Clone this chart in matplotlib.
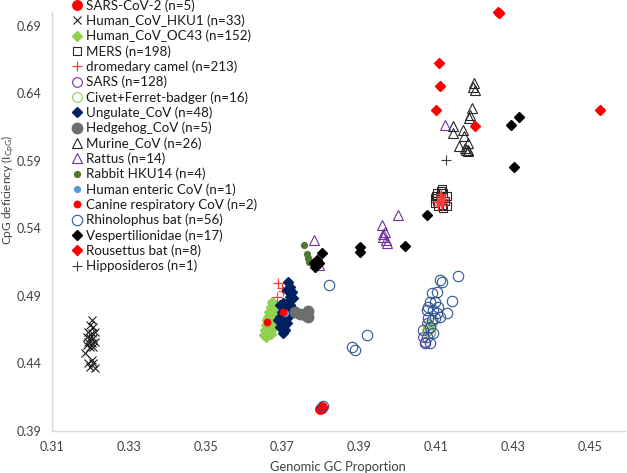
import matplotlib
matplotlib.use("Agg")
import matplotlib.pyplot as plt

plt.rcParams['font.family'] = ['Lato', 'DejaVu Sans']
plt.rcParams['mathtext.fontset'] = 'custom'
plt.rcParams['mathtext.rm'] = 'Lato'
plt.rcParams['mathtext.it'] = 'Lato'

# values (GC proportion, CpG deficiency)
sars_cov2_x = [0.3800, 0.3803, 0.3799, 0.3801, 0.3802]
sars_cov2_y = [0.4070, 0.4075, 0.4065, 0.4072, 0.4068]

hku1_x = [0.3203, 0.3199, 0.3208, 0.3195, 0.3203, 0.3212, 0.3190, 0.3199, 0.3208, 0.3195, 0.3203,
          0.3212, 0.3199, 0.3190, 0.3208, 0.3186, 0.3203, 0.3208, 0.3199, 0.3212, 0.3195]
hku1_y = [0.4722, 0.4685, 0.4673, 0.4636, 0.4624, 0.4636, 0.4599, 0.4587, 0.4587, 0.4561, 0.4549,
          0.4561, 0.4524, 0.4537, 0.4524, 0.4476, 0.4426, 0.4401, 0.4376, 0.4364, 0.4401]

oc43_x = [0.3674, 0.3676, 0.3670, 0.3678, 0.3666, 0.3675, 0.3663, 0.3672, 0.3681, 0.3659, 0.3668, 0.3676,
          0.3657, 0.3666, 0.3675, 0.3655, 0.3663, 0.3672, 0.3652, 0.3661, 0.3670, 0.3657, 0.3678, 0.3681]
oc43_y = [0.4858, 0.4833, 0.4816, 0.4801, 0.4784, 0.4772, 0.4747, 0.4742, 0.4752, 0.4722, 0.4710, 0.4717,
          0.4685, 0.4678, 0.4683, 0.4648, 0.4648, 0.4653, 0.4611, 0.4611, 0.4619, 0.4594, 0.4673, 0.4722]

mers_x = [0.4115, 0.4102, 0.4119, 0.4097, 0.4128, 0.4110, 0.4102, 0.4123, 0.4115, 0.4097, 0.4119,
          0.4128, 0.4106, 0.4112, 0.4100]
mers_y = [0.5690, 0.5661, 0.5661, 0.5624, 0.5636, 0.5636, 0.5599, 0.5599, 0.5574, 0.5587, 0.5550,
          0.5567, 0.5561, 0.5673, 0.5641]

camel_x = [0.3689, 0.3698, 0.3687, 0.3701, 0.4110, 0.4115, 0.4108, 0.4118, 0.4112, 0.4105, 0.4120,
           0.4113, 0.4102, 0.4116]
camel_y = [0.4994, 0.4957, 0.4890, 0.4939, 0.5640, 0.5620, 0.5605, 0.5600, 0.5585, 0.5575, 0.5615,
           0.5650, 0.5595, 0.5570]

sars_x = [0.4071, 0.4067, 0.4080, 0.4076, 0.4084]
sars_y = [0.4561, 0.4599, 0.4648, 0.4698, 0.4624]

civet_x = [0.4080, 0.4084, 0.4076, 0.4089, 0.4083]
civet_y = [0.4685, 0.4661, 0.4648, 0.4698, 0.4624]

ungulate_x = [0.3715, 0.3720, 0.3711, 0.3724, 0.3720, 0.3728, 0.3715, 0.3702, 0.3694, 0.3707, 0.3720, 0.3698,
              0.3711, 0.3724, 0.3694, 0.3707, 0.3715, 0.3698, 0.3711, 0.3701, 0.3707, 0.3702, 0.3694, 0.3689]
ungulate_y = [0.5006, 0.4969, 0.4944, 0.4932, 0.4895, 0.4883, 0.4858, 0.4846, 0.4833, 0.4821, 0.4833, 0.4784,
              0.4784, 0.4809, 0.4747, 0.4735, 0.4747, 0.4710, 0.4698, 0.4673, 0.4648, 0.4624, 0.4673, 0.4722]

hedgehog_x = [0.3733, 0.3746, 0.3759, 0.3767, 0.3767]
hedgehog_y = [0.4784, 0.4767, 0.4759, 0.4791, 0.4747]

murine_x = [0.4200, 0.4202, 0.4197, 0.4193, 0.4189, 0.4187, 0.4145, 0.4145, 0.4171, 0.4174, 0.4184,
            0.4160, 0.4178, 0.4182, 0.4176, 0.4184]
murine_y = [0.6476, 0.6426, 0.6446, 0.6290, 0.6241, 0.6216, 0.6154, 0.6105, 0.6130, 0.6080, 0.6031,
            0.6011, 0.5981, 0.5969, 0.5994, 0.5981]

rattus_x = [0.3959, 0.3967, 0.3963, 0.3972, 0.3962, 0.3970, 0.4002, 0.3783, 0.3796, 0.4123]
rattus_y = [0.5426, 0.5376, 0.5339, 0.5290, 0.5360, 0.5310, 0.5500, 0.5315, 0.5130, 0.6167]

rabbit_x = [0.3757, 0.3763, 0.3766, 0.3768]
rabbit_y = [0.5278, 0.5209, 0.5179, 0.5154]

enteric_x = [0.3707]
enteric_y = [0.4772]

canine_x = [0.3659, 0.3701]
canine_y = [0.4710, 0.4784]

rhino_x = [0.4110, 0.4115, 0.4157, 0.4141, 0.4128, 0.4089, 0.4102, 0.4084, 0.4097, 0.4076, 0.4093, 0.4106,
           0.4080, 0.4097, 0.4110, 0.4067, 0.4084, 0.4093, 0.4076, 0.4084, 0.4071, 0.4102, 0.4089, 0.4080,
           0.3820, 0.3920, 0.3882, 0.3889, 0.3806]
rhino_y = [0.5019, 0.5006, 0.5050, 0.4865, 0.4776, 0.4920, 0.4932, 0.4858, 0.4858, 0.4796, 0.4796, 0.4821,
           0.4735, 0.4735, 0.4747, 0.4648, 0.4673, 0.4624, 0.4599, 0.4550, 0.4550, 0.4772, 0.4722, 0.4821,
           0.4981, 0.4611, 0.4524, 0.4500, 0.4085]

vesper_x = [0.3802, 0.3789, 0.3781, 0.3794, 0.3785, 0.3901, 0.3902, 0.4019, 0.4077, 0.4295, 0.4317, 0.4303]
vesper_y = [0.5216, 0.5167, 0.5142, 0.5142, 0.5113, 0.5265, 0.5221, 0.5270, 0.5500, 0.6167, 0.6224, 0.5853]

rousettus_x = [0.4264, 0.4262, 0.4265, 0.4108, 0.4110, 0.4099, 0.4202, 0.4527]
rousettus_y = [0.6989, 0.7000, 0.6995, 0.6624, 0.6450, 0.6278, 0.6154, 0.6278]

hippo_x = [0.4126]
hippo_y = [0.5907]

W, H = 627, 473
fig = plt.figure(figsize=(W / 100, H / 100), dpi=100)
ax = fig.add_axes([52 / W, 1 - 431 / H, (625 - 52) / W, (431 - 12) / H])

series = [
    (sars_cov2_x, sars_cov2_y, 'SARS-CoV-2 (n=5)', dict(marker='o', ms=6.8, mfc='#FF0000', mec='#FF0000')),
    (hku1_x, hku1_y, 'Human_CoV_HKU1 (n=33)', dict(marker='x', ms=6.0, mec='#1a1a1a', mew=0.8)),
    (oc43_x, oc43_y, 'Human_CoV_OC43 (n=152)', dict(marker='D', ms=4.8, mfc='#92D050', mec='#92D050')),
    (mers_x, mers_y, 'MERS (n=198)', dict(marker='s', ms=6.0, mfc='none', mec='#262626', mew=0.8)),
    (camel_x, camel_y, 'dromedary camel (n=213)', dict(marker='+', ms=7.5, mec='#FF3B3B', mew=0.9)),
    (sars_x, sars_y, 'SARS (n=128)', dict(marker='o', ms=7.0, mfc='none', mec='#7030A0', mew=0.8)),
    (civet_x, civet_y, 'Civet+Ferret-badger (n=16)', dict(marker='o', ms=7.0, mfc='none', mec='#92D050', mew=0.8)),
    (ungulate_x, ungulate_y, 'Ungulate_CoV (n=48)', dict(marker='D', ms=5.3, mfc='#002060', mec='#002060')),
    (hedgehog_x, hedgehog_y, 'Hedgehog_CoV (n=5)', dict(marker='o', ms=7.5, mfc='#6E6E6E', mec='#6E6E6E')),
    (murine_x, murine_y, 'Murine_CoV (n=26)', dict(marker='^', ms=7.2, mfc='none', mec='#262626', mew=0.8)),
    (rattus_x, rattus_y, 'Rattus (n=14)', dict(marker='^', ms=7.2, mfc='none', mec='#7030A0', mew=0.8)),
    (rabbit_x, rabbit_y, 'Rabbit HKU14 (n=4)', dict(marker='o', ms=4.2, mfc='#4E7A2E', mec='#4E7A2E')),
    (enteric_x, enteric_y, 'Human enteric CoV (n=1)', dict(marker='o', ms=4.2, mfc='#5B9BD5', mec='#5B9BD5')),
    (canine_x, canine_y, 'Canine respiratory CoV (n=2)', dict(marker='o', ms=4.6, mfc='#FF0000', mec='#FF0000')),
    (rhino_x, rhino_y, 'Rhinolophus bat (n=56)', dict(marker='o', ms=7.5, mfc='none', mec='#2F5597', mew=0.8)),
    (vesper_x, vesper_y, 'Vespertilionidae (n=17)', dict(marker='D', ms=5.3, mfc='black', mec='black')),
    (rousettus_x, rousettus_y, 'Rousettus bat (n=8)', dict(marker='D', ms=5.3, mfc='#FF0000', mec='#FF0000')),
    (hippo_x, hippo_y, 'Hipposideros (n=1)', dict(marker='+', ms=7.5, mec='#404040', mew=0.8)),
]

for xs, ys, label, style in series:
    ax.plot(xs, ys, linestyle='none', label=label, clip_on=False, **style)

ax.set_xlim(0.31, 0.4592)
ax.set_ylim(0.39, 0.70)
ax.set_xticks([0.31, 0.33, 0.35, 0.37, 0.39, 0.41, 0.43, 0.45])
ax.set_xticklabels(['0.31', '0.33', '0.35', '0.37', '0.39', '0.41', '0.43', '0.45'])
ax.set_yticks([0.39, 0.44, 0.49, 0.54, 0.59, 0.64, 0.69])
ax.set_yticklabels(['0.39', '0.44', '0.49', '0.54', '0.59', '0.64', '0.69'])
ax.tick_params(axis='both', length=0, labelsize=9.0, colors='#404040')
ax.tick_params(axis='x', pad=7)
ax.tick_params(axis='y', pad=7.5)
for side in ['top', 'right']:
    ax.spines[side].set_visible(False)
for side in ['left', 'bottom']:
    ax.spines[side].set_color('#D9D9D9')
    ax.spines[side].set_linewidth(1.0)

fig.text(338 / W, 1 - 467 / H, 'Genomic GC Proportion', ha='center', va='center',
         fontsize=9.3, color='#404040')
fig.text(8 / W, 1 - 190 / H, 'CpG deficiency (I$_{\\mathrm{CpG}}$)', ha='center', va='center',
         rotation=90, fontsize=8.6, color='#404040')

fig.legend(loc='upper left', bbox_to_anchor=(72.4 / W, 1 + 1 / H), frameon=False,
           borderpad=0, borderaxespad=0, handlelength=0.75, handletextpad=0.3,
           labelspacing=0.21, fontsize=9.6, labelcolor='#1a1a1a', numpoints=1)

fig.savefig('out.png', dpi=100)
